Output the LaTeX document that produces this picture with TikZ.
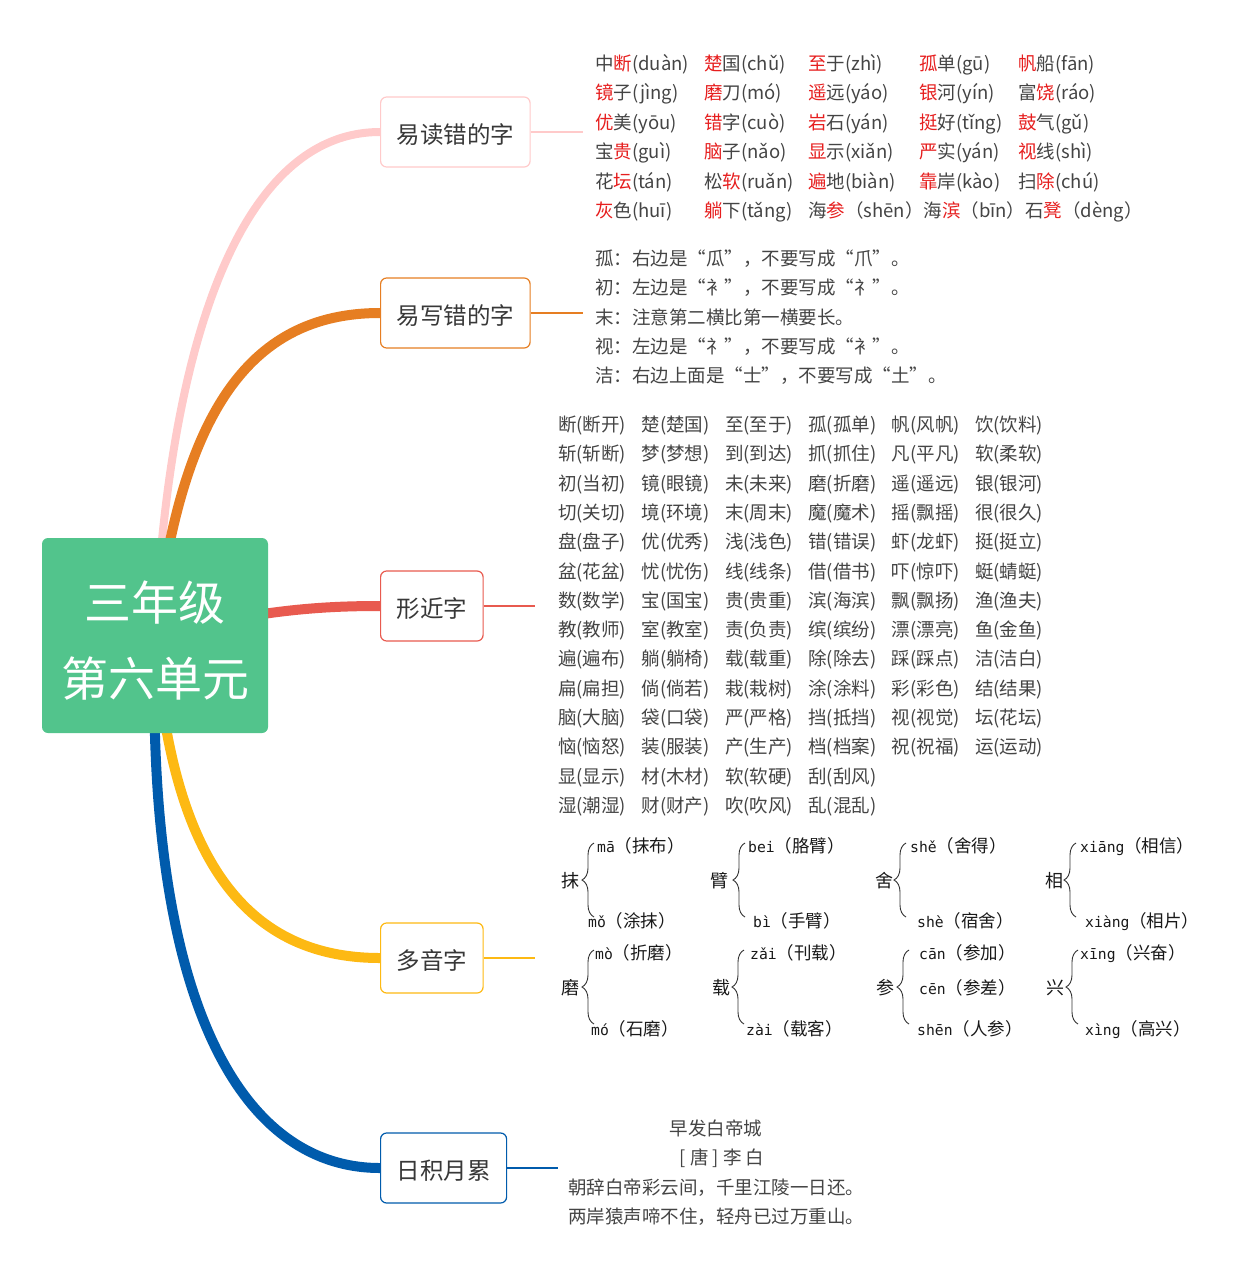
\documentclass[tikz,border=0pt]{standalone}
\usepackage{fontspec}
\newfontfamily\cjk{Noto Sans CJK SC}
\newfontfamily\pymono[Scale=0.84]{DejaVu Sans Mono}
\usetikzlibrary{backgrounds,decorations.pathreplacing}
\definecolor{rootgreen}{HTML}{52C48C}
\definecolor{pinkline}{HTML}{FFCACA}
\definecolor{orangeline}{HTML}{E67E22}
\definecolor{redline}{HTML}{E85A4F}
\definecolor{yellowline}{HTML}{FDB913}
\definecolor{blueline}{HTML}{005BAC}
\definecolor{txtgray}{HTML}{444444}
\definecolor{hlred}{HTML}{E61E1E}
\newcommand{\hl}[1]{\textcolor{hlred}{#1}}
\tikzset{
  rootbox/.style={fill=rootgreen, rounded corners=6pt, minimum width=226pt, minimum height=195pt,
    text=white, align=center, text height=125pt, text depth=3pt,
    font=\cjk\fontsize{47}{76}\selectfont},
  topic/.style={draw=#1, line width=1.2pt, fill=white, rounded corners=6pt, anchor=west,
    minimum height=70pt, inner xsep=16pt, text height=22pt, text depth=0pt,
    text=black!78, font=\cjk\fontsize{23.5}{26}\selectfont},
  word/.style={anchor=west, inner sep=0pt, text height=15pt, text depth=0pt,
    text=txtgray, font=\cjk\fontsize{18.5}{22}\selectfont},
  poem/.style={word, anchor=center},
  pyitem/.style={anchor=west, inner sep=0pt, text height=14pt, text depth=0pt,
    text=black!90, font=\cjk\fontsize{17.5}{20}\selectfont},
  pychar/.style={pyitem, anchor=east, font=\cjk\fontsize{18}{20}\selectfont},
  curly/.style={draw=black!80, line width=0.9pt, decorate, decoration={brace, amplitude=12pt}}
}
\begin{document}
\begin{tikzpicture}[x=1pt,y=-1pt]
  \useasboundingbox (0,0) rectangle (1259,1280);
  \node (root) [rootbox] at (155,635.5) {三年级\\第六单元};
  \node (ydc) [topic=pinkline] at (380,132) {易读错的字};
  \node (yxc) [topic=orangeline] at (380,313) {易写错的字};
  \node (xjz) [topic=redline] at (380,606) {形近字};
  \node (dyz) [topic=yellowline] at (380,958) {多音字};
  \node (rjyl) [topic=blueline] at (380,1168) {日积月累};
  \begin{scope}[on background layer]
    \draw [pinkline, line width=8] (root.center) .. controls (170,330) and (245,132) .. (ydc.west);
    \draw [orangeline, line width=10] (root.center) .. controls (180,420) and (245,313) .. (yxc.west);
    \draw [redline, line width=10] (root.center) .. controls (260,610) and (320,606) .. (xjz.west);
    \draw [yellowline, line width=10] (root.center) .. controls (170,850) and (240,958) .. (dyz.west);
    \draw [blueline, line width=10] (root.center) .. controls (145,1000) and (240,1168) .. (rjyl.west);
  \end{scope}
  \coordinate (ydc-end) at (583,132);
  \coordinate (yxc-end) at (583,313);
  \coordinate (xjz-end) at (535,606);
  \coordinate (dyz-end) at (535,958);
  \coordinate (rjyl-end) at (558,1168);
  \draw [pinkline, line width=1.2] (ydc.east) -- (ydc-end);
  \draw [orangeline, line width=1.2] (yxc.east) -- (yxc-end);
  \draw [redline, line width=1.2] (xjz.east) -- (xjz-end);
  \draw [yellowline, line width=1.2] (dyz.east) -- (dyz-end);
  \draw [blueline, line width=1.2] (rjyl.east) -- (rjyl-end);
  % 易读错的字
  \foreach \row [count=\r] in {
    {{中\hl{断}(duàn)},{\hl{楚}国(chǔ)},{\hl{至}于(zhì)},{\hl{孤}单(gū)},{\hl{帆}船(fān)}},
    {{\hl{镜}子(jìng)},{\hl{磨}刀(mó)},{\hl{遥}远(yáo)},{\hl{银}河(yín)},{富\hl{饶}(ráo)}},
    {{\hl{优}美(yōu)},{\hl{错}字(cuò)},{\hl{岩}石(yán)},{\hl{挺}好(tǐng)},{\hl{鼓}气(gǔ)}},
    {{宝\hl{贵}(guì)},{\hl{脑}子(nǎo)},{\hl{显}示(xiǎn)},{\hl{严}实(yán)},{\hl{视}线(shì)}},
    {{花\hl{坛}(tán)},{松\hl{软}(ruǎn)},{\hl{遍}地(biàn)},{\hl{靠}岸(kào)},{扫\hl{除}(chú)}},
    {{\hl{灰}色(huī)},{\hl{躺}下(tǎng)},{海\hl{参}（shēn）海\hl{滨}（bīn）石\hl{凳}（dèng）}}}
    \foreach \t [count=\c] in \row {
      \pgfmathsetmacro\px{{595,704,808,919,1018}[\c-1]}
      \node (du-\r-\c) [word] at (\px,{63+29.4*(\r-1)}) {\t};
    }
  % 易写错的字
  \foreach \t [count=\i] in {孤：右边是“瓜”，不要写成“爪”。,
      初：左边是“衤”，不要写成“礻”。,
      末：注意第二横比第一横要长。,
      视：左边是“礻”，不要写成“衤”。,
      洁：右边上面是“士”，不要写成“土”。}
    \node (xie-\i) [word] at (595,{258+29.3*(\i-1)}) {\t};
  % 形近字
  \foreach \row [count=\r] in {
    {断(断开),楚(楚国),至(至于),孤(孤单),帆(风帆),饮(饮料)},
    {斩(斩断),梦(梦想),到(到达),抓(抓住),凡(平凡),软(柔软)},
    {初(当初),镜(眼镜),未(未来),磨(折磨),遥(遥远),银(银河)},
    {切(关切),境(环境),末(周末),魔(魔术),摇(飘摇),很(很久)},
    {盘(盘子),优(优秀),浅(浅色),错(错误),虾(龙虾),挺(挺立)},
    {盆(花盆),忧(忧伤),线(线条),借(借书),吓(惊吓),蜓(蜻蜓)},
    {数(数学),宝(国宝),贵(贵重),滨(海滨),飘(飘扬),渔(渔夫)},
    {教(教师),室(教室),责(负责),缤(缤纷),漂(漂亮),鱼(金鱼)},
    {遍(遍布),躺(躺椅),载(载重),除(除去),踩(踩点),洁(洁白)},
    {扁(扁担),倘(倘若),栽(栽树),涂(涂料),彩(彩色),结(结果)},
    {脑(大脑),袋(口袋),严(严格),挡(抵挡),视(视觉),坛(花坛)},
    {恼(恼怒),装(服装),产(生产),档(档案),祝(祝福),运(运动)},
    {显(显示),材(木材),软(软硬),刮(刮风)},
    {湿(潮湿),财(财产),吹(吹风),乱(混乱)}}
    \foreach \t [count=\c] in \row
      \node (xj-\r-\c) [word] at ({558+83.4*(\c-1)},{424+29.3*(\r-1)}) {\t};
  % 多音字
  \foreach \n/\ch/\ex/\cy/\bx in {ma/抹/580/880/594, bi/臂/729/880/745, she/舍/894/880/906,
      xiang/相/1064/880/1076, mo/磨/580/987/594, zai/载/731/987/744, shen/参/895/987/909,
      xing/兴/1065/987/1078} {
    \node (\n) [pychar] at (\ex,\cy) {\ch};
    \coordinate (\n-t) at (\bx,\cy-37);
    \coordinate (\n-b) at (\bx,\cy+37);
    \draw [curly] (\n-b) -- (\n-t);
  }
  \node (ma-1) [pyitem] at (597,845) {{\pymono mā}（抹布）};
  \node (ma-2) [pyitem] at (588,920) {{\pymono mǒ}（涂抹）};
  \node (bi-1) [pyitem] at (748,845) {{\pymono bei}（胳臂）};
  \node (bi-2) [pyitem] at (753,920) {{\pymono bì}（手臂）};
  \node (she-1) [pyitem] at (910,845) {{\pymono shě}（舍得）};
  \node (she-2) [pyitem] at (917,920) {{\pymono shè}（宿舍）};
  \node (xiang-1) [pyitem] at (1080,845) {{\pymono xiāng}（相信）};
  \node (xiang-2) [pyitem] at (1085,920) {{\pymono xiàng}（相片）};
  \node (mo-1) [pyitem] at (595,952) {{\pymono mò}（折磨）};
  \node (mo-2) [pyitem] at (591,1028) {{\pymono mó}（石磨）};
  \node (zai-1) [pyitem] at (750,952) {{\pymono zǎi}（刊载）};
  \node (zai-2) [pyitem] at (746,1028) {{\pymono zài}（载客）};
  \node (shen-1) [pyitem] at (919,952) {{\pymono cān}（参加）};
  \node (shen-2) [pyitem] at (919,987) {{\pymono cēn}（参差）};
  \node (shen-3) [pyitem] at (917,1028) {{\pymono shēn}（人参）};
  \node (xing-1) [pyitem] at (1080,952) {{\pymono xīng}（兴奋）};
  \node (xing-2) [pyitem] at (1085,1028) {{\pymono xìng}（高兴）};
  % 日积月累
  \node (title) [poem] at (716,1128) {早发白帝城};
  \node (poet) [poem] at (722,1157) {[ 唐 ] 李 白};
  \node (line1) [poem] at (716,1187) {朝辞白帝彩云间，千里江陵一日还。};
  \node (line2) [poem] at (716,1216) {两岸猿声啼不住，轻舟已过万重山。};
\end{tikzpicture}
\end{document}
